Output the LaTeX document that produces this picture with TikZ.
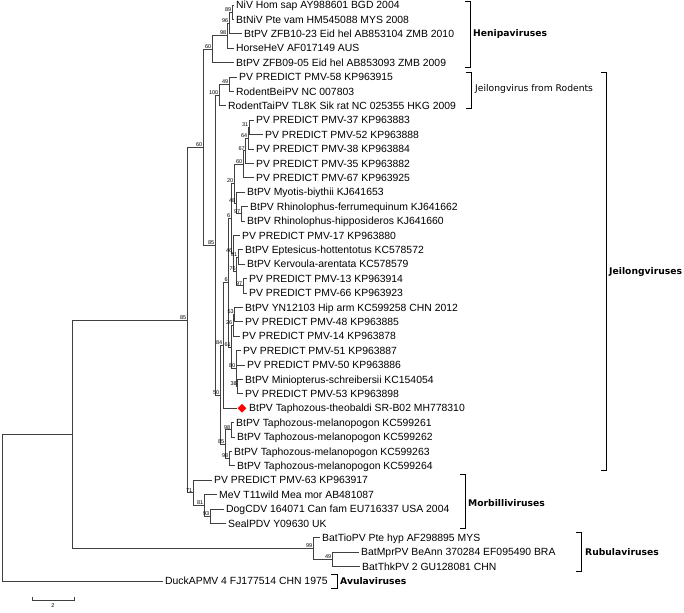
\documentclass[tikz,border=0pt]{standalone}
\usepackage{fontspec}
\setmainfont{Liberation Sans}
\newfontfamily\grpfont{DejaVu Sans}
\usetikzlibrary{shapes.geometric}

\begin{document}
\begin{tikzpicture}[x=1pt, y=-1pt,
    tip/.style={anchor=west, inner xsep=2pt, inner ysep=0pt, text height=7.4pt, text depth=0pt, font=\fontsize{10.4}{12}\selectfont},
    bs/.style={anchor=south east, inner sep=0.5pt, font=\fontsize{5.5}{6}\selectfont},
    grp/.style={anchor=west, inner sep=0pt, font=\grpfont\fontsize{9.2}{11}\selectfont},
    edge/.style={draw=black!75, line width=0.7pt}]
  \useasboundingbox (0,0) rectangle (684,612);

  % leaves
  \node[tip] (niv) at (234,5.0) {NiV Hom sap AY988601 BGD 2004};
  \node[tip] (btniv) at (234,19.4) {BtNiV Pte vam HM545088 MYS 2008};
  \node[tip] (zfba) at (242,33.8) {BtPV ZFB10-23 Eid hel AB853104 ZMB 2010};
  \node[tip] (horse) at (234,48.2) {HorseHeV AF017149 AUS};
  \node[tip] (zfbb) at (234,62.6) {BtPV ZFB09-05 Eid hel AB853093 ZMB 2009};
  \node[tip] (pmv58) at (237,77.0) {PV PREDICT PMV-58 KP963915};
  \node[tip] (bei) at (234,91.4) {RodentBeiPV NC 007803};
  \node[tip] (tai) at (226,105.8) {RodentTaiPV TL8K Sik rat NC 025355 HKG 2009};
  \node[tip] (pmv37) at (254,120.2) {PV PREDICT PMV-37 KP963883};
  \node[tip] (pmv52) at (263,134.6) {PV PREDICT PMV-52 KP963888};
  \node[tip] (pmv38) at (254,149.0) {PV PREDICT PMV-38 KP963884};
  \node[tip] (pmv35) at (254,163.4) {PV PREDICT PMV-35 KP963882};
  \node[tip] (pmv67) at (254,177.8) {PV PREDICT PMV-67 KP963925};
  \node[tip] (myo) at (245,192.2) {BtPV Myotis-biythii KJ641653};
  \node[tip] (rhfe) at (248,206.6) {BtPV Rhinolophus-ferrumequinum KJ641662};
  \node[tip] (rhhi) at (245,221.0) {BtPV Rhinolophus-hipposideros KJ641660};
  \node[tip] (pmv17) at (240,235.4) {PV PREDICT PMV-17 KP963880};
  \node[tip] (epte) at (243,249.8) {BtPV Eptesicus-hottentotus KC578572};
  \node[tip] (kerv) at (245,264.2) {BtPV Kervoula-arentata KC578579};
  \node[tip] (pmv13) at (247,278.6) {PV PREDICT PMV-13 KP963914};
  \node[tip] (pmv66) at (247,293.0) {PV PREDICT PMV-66 KP963923};
  \node[tip] (yn) at (243,307.4) {BtPV YN12103 Hip arm KC599258 CHN 2012};
  \node[tip] (pmv48) at (243,321.8) {PV PREDICT PMV-48 KP963885};
  \node[tip] (pmv14) at (240,336.2) {PV PREDICT PMV-14 KP963878};
  \node[tip] (pmv51) at (241,350.6) {PV PREDICT PMV-51 KP963887};
  \node[tip] (pmv50) at (245,365.0) {PV PREDICT PMV-50 KP963886};
  \node[tip] (mini) at (243,379.4) {BtPV Miniopterus-schreibersii KC154054};
  \node[tip] (pmv53) at (243,393.8) {PV PREDICT PMV-53 KP963898};
  \node[diamond, fill=red, inner sep=0pt, minimum width=9pt, minimum height=9pt] (mark) at (242,408.2) {};
  \node[tip] (theo) at (247,408.2) {BtPV Taphozous-theobaldi SR-B02 MH778310};
  \node[tip] (kca) at (234,422.6) {BtPV Taphozous-melanopogon KC599261};
  \node[tip] (kcb) at (235,437.0) {BtPV Taphozous-melanopogon KC599262};
  \node[tip] (kcc) at (232,451.4) {BtPV Taphozous-melanopogon KC599263};
  \node[tip] (kcd) at (235,465.8) {BtPV Taphozous-melanopogon KC599264};
  \node[tip] (pmv63) at (212,480.2) {PV PREDICT PMV-63 KP963917};
  \node[tip] (mev) at (217,494.6) {MeV T11wild Mea mor AB481087};
  \node[tip] (cdv) at (224,509.0) {DogCDV 164071 Can fam EU716337 USA 2004};
  \node[tip] (pdv) at (226,523.4) {SealPDV Y09630 UK};
  \node[tip] (tio) at (320,537.8) {BatTioPV Pte hyp AF298895 MYS};
  \node[tip] (mpr) at (359,552.2) {BatMprPV BeAnn 370284 EF095490 BRA};
  \node[tip] (thk) at (360,566.6) {BatThkPV 2 GU128081 CHN};
  \node[tip] (duck) at (163,581.0) {DuckAPMV 4 FJ177514 CHN 1975};

  % internal nodes
  \coordinate (h89) at (232,12.2);
  \coordinate (h96) at (229,23.0);
  \coordinate (h98) at (227,35.6);
  \coordinate (hen) at (212,49.1);
  \coordinate (r49) at (229,84.2);
  \coordinate (r100) at (219,95.0);
  \coordinate (p31) at (249,127.4);
  \coordinate (p64) at (248,138.2);
  \coordinate (p67) at (245.5,150.8);
  \coordinate (p60) at (243,164.3);
  \coordinate (p97a) at (241,213.8);
  \coordinate (p48) at (236,203.0);
  \coordinate (p20) at (234,183.65);
  \coordinate (p81) at (238,257.0);
  \coordinate (p97b) at (243,285.8);
  \coordinate (p76) at (236.5,271.4);
  \coordinate (p46) at (233,253.4);
  \coordinate (p6a) at (231,218.5);
  \coordinate (p53) at (234.5,314.6);
  \coordinate (p26) at (233,325.4);
  \coordinate (p38) at (237.5,386.6);
  \coordinate (p80) at (236,368.6);
  \coordinate (p61) at (231.5,347.0);
  \coordinate (p6b) at (228.5,282.75);
  \coordinate (p84) at (223,345.5);
  \coordinate (t98a) at (231,429.8);
  \coordinate (t98b) at (229,458.6);
  \coordinate (t85) at (225,444.2);
  \coordinate (j50) at (220,394.85);
  \coordinate (jei) at (215,244.9);
  \coordinate (hj60) at (203,147.0);
  \coordinate (m93) at (210,516.2);
  \coordinate (m81) at (204,505.4);
  \coordinate (m71) at (193,492.8);
  \coordinate (a85) at (187,319.9);
  \coordinate (u49) at (332,559.4);
  \coordinate (u99) at (313,548.6);
  \coordinate (b72) at (72,434.25);
  \coordinate (root) at (2,507.6);

  % branches
  \draw[edge] (h89) |- (niv.west);
  \draw[edge] (h89) |- (btniv.west);
  \draw[edge] (h96) |- (h89);
  \draw[edge] (h96) |- (zfba.west);
  \draw[edge] (h98) |- (h96);
  \draw[edge] (h98) |- (horse.west);
  \draw[edge] (hen) |- (h98);
  \draw[edge] (hen) |- (zfbb.west);
  \draw[edge] (r49) |- (pmv58.west);
  \draw[edge] (r49) |- (bei.west);
  \draw[edge] (r100) |- (r49);
  \draw[edge] (r100) |- (tai.west);
  \draw[edge] (p31) |- (pmv37.west);
  \draw[edge] (p31) |- (pmv52.west);
  \draw[edge] (p64) |- (p31);
  \draw[edge] (p64) |- (pmv38.west);
  \draw[edge] (p67) |- (p64);
  \draw[edge] (p67) |- (pmv35.west);
  \draw[edge] (p60) |- (p67);
  \draw[edge] (p60) |- (pmv67.west);
  \draw[edge] (p97a) |- (rhfe.west);
  \draw[edge] (p97a) |- (rhhi.west);
  \draw[edge] (p48) |- (myo.west);
  \draw[edge] (p48) |- (p97a);
  \draw[edge] (p20) |- (p60);
  \draw[edge] (p20) |- (p48);
  \draw[edge] (p81) |- (epte.west);
  \draw[edge] (p81) |- (kerv.west);
  \draw[edge] (p97b) |- (pmv13.west);
  \draw[edge] (p97b) |- (pmv66.west);
  \draw[edge] (p76) |- (p81);
  \draw[edge] (p76) |- (p97b);
  \draw[edge] (p46) |- (pmv17.west);
  \draw[edge] (p46) |- (p76);
  \draw[edge] (p6a) |- (p20);
  \draw[edge] (p6a) |- (p46);
  \draw[edge] (p53) |- (yn.west);
  \draw[edge] (p53) |- (pmv48.west);
  \draw[edge] (p26) |- (p53);
  \draw[edge] (p26) |- (pmv14.west);
  \draw[edge] (p38) |- (mini.west);
  \draw[edge] (p38) |- (pmv53.west);
  \draw[edge] (p80) |- (pmv51.west);
  \draw[edge] (p80) |- (pmv50.west);
  \draw[edge] (p80) |- (p38);
  \draw[edge] (p61) |- (p26);
  \draw[edge] (p61) |- (p80);
  \draw[edge] (p6b) |- (p6a);
  \draw[edge] (p6b) |- (p61);
  \draw[edge] (p84) |- (p6b);
  \draw[edge] (p84) |- (mark.west);
  \draw[edge] (t98a) |- (kca.west);
  \draw[edge] (t98a) |- (kcb.west);
  \draw[edge] (t98b) |- (kcc.west);
  \draw[edge] (t98b) |- (kcd.west);
  \draw[edge] (t85) |- (t98a);
  \draw[edge] (t85) |- (t98b);
  \draw[edge] (j50) |- (p84);
  \draw[edge] (j50) |- (t85);
  \draw[edge] (jei) |- (r100);
  \draw[edge] (jei) |- (j50);
  \draw[edge] (hj60) |- (hen);
  \draw[edge] (hj60) |- (jei);
  \draw[edge] (m93) |- (cdv.west);
  \draw[edge] (m93) |- (pdv.west);
  \draw[edge] (m81) |- (mev.west);
  \draw[edge] (m81) |- (m93);
  \draw[edge] (m71) |- (pmv63.west);
  \draw[edge] (m71) |- (m81);
  \draw[edge] (a85) |- (hj60);
  \draw[edge] (a85) |- (m71);
  \draw[edge] (u49) |- (mpr.west);
  \draw[edge] (u49) |- (thk.west);
  \draw[edge] (u99) |- (tio.west);
  \draw[edge] (u99) |- (u49);
  \draw[edge] (b72) |- (a85);
  \draw[edge] (b72) |- (u99);
  \draw[edge] (root) |- (b72);
  \draw[edge] (root) |- (duck.west);

  % bootstrap values
  \node[bs] (l-h89) at (h89) {89};
  \node[bs] (l-h96) at (h96) {96};
  \node[bs] (l-h98) at (h98) {98};
  \node[bs] (l-hen) at (hen) {60};
  \node[bs] (l-r49) at (r49) {49};
  \node[bs] (l-r100) at (r100) {100};
  \node[bs] (l-p31) at (p31) {31};
  \node[bs] (l-p64) at (p64) {64};
  \node[bs] (l-p67) at (p67) {67};
  \node[bs] (l-p60) at (p60) {60};
  \node[bs] (l-p20) at (p20) {20};
  \node[bs] (l-p48) at (p48) {48};
  \node[bs] (l-p97a) at (p97a) {97};
  \node[bs] (l-p6a) at (p6a) {6};
  \node[bs] (l-p46) at (p46) {46};
  \node[bs] (l-p81) at (p81) {81};
  \node[bs] (l-p76) at (p76) {76};
  \node[bs] (l-p97b) at (p97b) {97};
  \node[bs] (l-p6b) at (p6b) {6};
  \node[bs] (l-p53) at (p53) {53};
  \node[bs] (l-p26) at (p26) {26};
  \node[bs] (l-p84) at (p84) {84};
  \node[bs] (l-p61) at (p61) {61};
  \node[bs] (l-p80) at (p80) {80};
  \node[bs] (l-p38) at (p38) {38};
  \node[bs] (l-j50) at (j50) {50};
  \node[bs] (l-t98a) at (t98a) {98};
  \node[bs] (l-t85) at (t85) {85};
  \node[bs] (l-t98b) at (t98b) {98};
  \node[bs] (l-jei) at (jei) {85};
  \node[bs] (l-hj60) at (hj60) {60};
  \node[bs] (l-a85) at (a85) {85};
  \node[bs] (l-m71) at (m71) {71};
  \node[bs] (l-m81) at (m81) {81};
  \node[bs] (l-m93) at (m93) {93};
  \node[bs] (l-u99) at (u99) {99};
  \node[bs] (l-u49) at (u49) {49};

  % clade brackets
  \draw (465,1) -- (470,1) -- (470,67) -- (465,67);
  \node[grp] (henipa) at (473,34) {\bfseries Henipaviruses};
  \draw (466,72) -- (471,72) -- (471,108) -- (466,108);
  \node[grp] (rodents) at (475,89) {Jeilongvirus from Rodents};
  \draw (601,72) -- (606,72) -- (606,470) -- (601,470);
  \node[grp] (jeilong) at (609,272) {\bfseries Jeilongviruses};
  \draw (460,474) -- (465,474) -- (465,528) -- (460,528);
  \node[grp] (morbilli) at (468,503) {\bfseries Morbilliviruses};
  \draw (576,532) -- (581,532) -- (581,571) -- (576,571);
  \node[grp] (rubula) at (585,552) {\bfseries Rubulaviruses};
  \draw (331,574) -- (337,574) -- (337,588) -- (331,588);
  \node[grp] (avula) at (340,581) {\bfseries Avulaviruses};

  % scale bar
  \draw[edge] (32,597) -- (32,600) -- (74,600) -- (74,597);
  \node[bs, anchor=north] (scale) at (53,603) {2};
\end{tikzpicture}
\end{document}
